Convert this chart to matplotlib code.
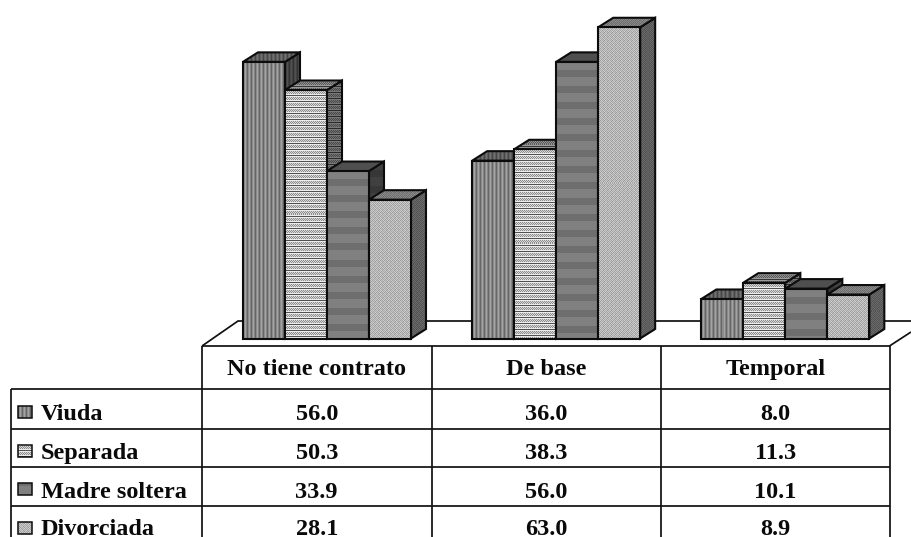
#!/usr/bin/env python3
"""3D-style clustered bars of contract type by marital status, with a data table below."""

import matplotlib

matplotlib.use("Agg")
import matplotlib.pyplot as plt
import numpy as np
from matplotlib.patches import Polygon

plt.rcParams["font.family"] = ["Liberation Serif", "DejaVu Serif"]

categories = ["No tiene contrato", "De base", "Temporal"]
series_names = ["Viuda", "Separada", "Madre soltera", "Divorciada"]
viuda = [56.0, 36.0, 8.0]
separada = [50.3, 38.3, 11.3]
madre_soltera = [33.9, 56.0, 10.1]
divorciada = [28.1, 63.0, 8.9]

W, H = 911, 537
BAR_TOP_VALUE = 68.0
PX_PER_VALUE = 4.94
BASE_Y = 338.5
COL_X = [202, 431.5, 661, 889.5]
ROW_Y = [346, 389, 429, 467, 506]
LEFT_X = 11
GROUP_PX = (COL_X[3] - COL_X[0]) / 3
BAR_OFFSET = 41 / GROUP_PX
BAR_WIDTH = 42 / GROUP_PX
DEPTH_X = 15 / GROUP_PX
DEPTH_Y = 9.5 / PX_PER_VALUE


def texture_vertical(w, h):
    return np.tile(np.array([[0.40, 0.55, 0.64, 0.52]]), (h, w // 4 + 1))[:h, :w]


def texture_rows(w, h):
    tile = np.array(
        [
            [0.32, 0.32, 0.32, 0.32],
            [0.92, 0.92, 0.92, 0.92],
            [0.55, 0.85, 0.55, 0.85],
            [0.85, 0.55, 0.85, 0.55],
            [0.55, 0.85, 0.55, 0.85],
            [0.92, 0.92, 0.92, 0.92],
        ]
    )
    return np.tile(tile, (h // 6 + 1, w // 4 + 1))[:h, :w]


def texture_bands(w, h):
    rows = np.array([0.50] * 9 + [0.43] * 7)
    return np.tile(rows[:, None], (h // 16 + 1, w))[:h, :w]


def texture_dots(w, h):
    tile = np.array(
        [
            [0.62, 0.80, 0.66, 0.78],
            [0.78, 0.64, 0.82, 0.62],
            [0.66, 0.76, 0.60, 0.80],
            [0.82, 0.60, 0.78, 0.68],
        ]
    )
    return np.tile(tile, (h // 4 + 1, w // 4 + 1))[:h, :w]


textures = [texture_vertical, texture_rows, texture_bands, texture_dots]
top_shade = [0.70, 0.66, 0.62, 0.68]
side_shade = [0.50, 0.52, 0.50, 0.52]
face_order = [10]


def textured_face(ax, verts, texture, shade, lw=1.5):
    """Fill a polygon with a grey pixel texture, clipped to its outline."""
    xs, ys = zip(*verts)
    x0, y0 = ax.transData.transform((min(xs), min(ys)))
    x1, y1 = ax.transData.transform((max(xs), max(ys)))
    w = max(int(round(abs(x1 - x0))), 1)
    h = max(int(round(abs(y1 - y0))), 1)
    # later faces have to cover the outlines of earlier ones
    face_order[0] += 2
    im = ax.imshow(
        texture(w, h) * shade,
        cmap="gray",
        vmin=0,
        vmax=1,
        extent=(min(xs), max(xs), min(ys), max(ys)),
        aspect="auto",
        interpolation="nearest",
        zorder=face_order[0],
    )
    outline = Polygon(
        verts,
        closed=True,
        fill=False,
        edgecolor="#0c0c0c",
        linewidth=lw,
        zorder=face_order[0] + 1,
        joinstyle="miter",
    )
    ax.add_patch(outline)
    im.set_clip_path(outline)
    outline.set_clip_on(False)


fig = plt.figure(figsize=(W / 100, H / 100), dpi=100, facecolor="white")

# table, floor and legend are laid out on a pixel grid
table = fig.add_axes([0, 0, 1, 1], zorder=0)
table.set_xlim(0, W)
table.set_ylim(H, 0)
table.axis("off")

line = dict(color="#111111", linewidth=1.25, solid_capstyle="butt")
table.plot([COL_X[0], 238, W], [ROW_Y[0], 321, 321], **line)
table.plot([COL_X[3], W], [ROW_Y[0], 332], **line)
table.plot([COL_X[0], COL_X[3]], [ROW_Y[0], ROW_Y[0]], **line)
for y in ROW_Y[1:]:
    table.plot([LEFT_X, COL_X[3]], [y, y], **line)
table.plot([LEFT_X, LEFT_X], [ROW_Y[1], H], **line)
for x in COL_X:
    table.plot([x, x], [ROW_Y[0], H], **line)

text_style = dict(fontsize=17.5, fontweight="bold", color="#0a0a0a", va="baseline", clip_on=True)
header_centers = [(COL_X[i] + COL_X[i + 1]) / 2 for i in range(3)]
for x, label in zip(header_centers, categories):
    table.text(x, 375, label, ha="center", **text_style)

rows = [viuda, separada, madre_soltera, divorciada]
baselines = [420.5, 459, 497.5, 535]
swatch_tops = [406, 445, 483, 522]
for i, (name, values) in enumerate(zip(series_names, rows)):
    table.text(41, baselines[i], name, ha="left", **text_style)
    for x, value in zip(header_centers, values):
        table.text(x, baselines[i], f"{value:.1f}", ha="center", **text_style)
    top = swatch_tops[i]
    swatch = [(18, top), (32, top), (32, top + 12), (18, top + 12)]
    textured_face(table, swatch, textures[i], 1.0, lw=1.1)
table.set_xlim(0, W)
table.set_ylim(H, 0)

# bars live on their own category/percent axes
bars = fig.add_axes(
    [COL_X[0] / W, (H - BASE_Y) / H, (COL_X[3] - COL_X[0]) / W, BAR_TOP_VALUE * PX_PER_VALUE / H],
    zorder=1,
)
bars.set_xlim(0, 3)
bars.set_ylim(0, BAR_TOP_VALUE)
bars.patch.set_alpha(0)
bars.axis("off")

for group in range(3):
    for s, values in enumerate(rows):
        x0 = group + BAR_OFFSET + s * BAR_WIDTH
        x1 = x0 + BAR_WIDTH
        v = values[group]
        front = [(x0, 0), (x1, 0), (x1, v), (x0, v)]
        top = [(x0, v), (x1, v), (x1 + DEPTH_X, v + DEPTH_Y), (x0 + DEPTH_X, v + DEPTH_Y)]
        side = [(x1, 0), (x1 + DEPTH_X, DEPTH_Y), (x1 + DEPTH_X, v + DEPTH_Y), (x1, v)]
        textured_face(bars, side, textures[s], side_shade[s])
        textured_face(bars, top, textures[s], top_shade[s])
        textured_face(bars, front, textures[s], 1.0)

bars.set_xlim(0, 3)
bars.set_ylim(0, BAR_TOP_VALUE)

fig.savefig("out.png", dpi=100)
